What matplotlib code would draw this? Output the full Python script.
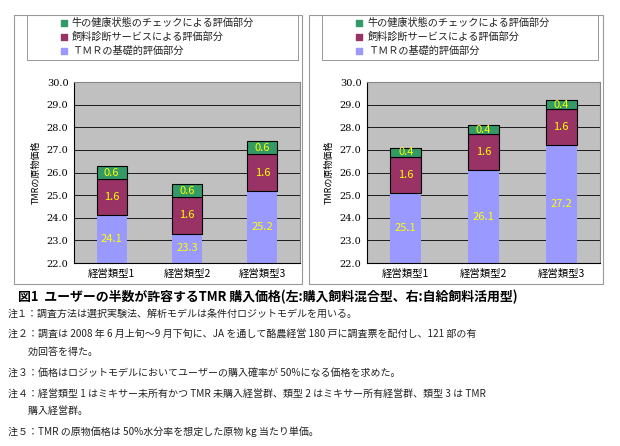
import matplotlib.pyplot as plt
from matplotlib.patches import Rectangle

plt.rcParams["font.family"] = "Noto Sans CJK JP"

categories = ["経営類型1", "経営類型2", "経営類型3"]
left_base = [24.1, 23.3, 25.2]
left_feed = [1.6, 1.6, 1.6]
left_health = [0.6, 0.6, 0.6]
right_base = [25.1, 26.1, 27.2]
right_feed = [1.6, 1.6, 1.6]
right_health = [0.4, 0.4, 0.4]
series_names = ["牛の健康状態のチェックによる評価部分", "飼料診断サービスによる評価部分", "ＴＭＲの基礎的評価部分"]
yticks = [22.0, 23.0, 24.0, 25.0, 26.0, 27.0, 28.0, 29.0, 30.0]

notes = [
    "注１：調査方法は選択実験法、解析モデルは条件付ロジットモデルを用いる。",
    "注２：調査は 2008 年 6 月上旬～9 月下旬に、JA を通して酪農経営 180 戸に調査票を配付し、121 部の有",
    "　　効回答を得た。",
    "注３：価格はロジットモデルにおいてユーザーの購入確率が 50%になる価格を求めた。",
    "注４：経営類型 1 はミキサー未所有かつ TMR 未購入経営群、類型 2 はミキサー所有経営群、類型 3 は TMR",
    "　　購入経営群。",
    "注５：TMR の原物価格は 50%水分率を想定した原物 kg 当たり単価。",
]

C_BASE, C_FEED, C_HEALTH = "#9999ff", "#993366", "#339966"
W, H = 620, 446
fig = plt.figure(figsize=(6.2, 4.46), dpi=100)


def px(x0, y0, x1, y1):
    return [x0 / W, 1 - y1 / H, (x1 - x0) / W, (y1 - y0) / H]


def panel(frame, leg, axbox, base, feed, health):
    fig.patches.append(Rectangle((frame[0], frame[1]), frame[2], frame[3],
                                 transform=fig.transFigure, fill=False, ec="#999999", lw=0.8))
    lax = fig.add_axes(leg)
    lax.set_xticks([]); lax.set_yticks([])
    for s in lax.spines.values():
        s.set_color("#999999"); s.set_linewidth(0.7)
    for i, (name, c) in enumerate(zip(series_names, [C_HEALTH, C_FEED, C_BASE])):
        y = 0.83 - i * 0.31
        lax.scatter([0.135], [y], marker="s", s=22, color=c)
        lax.text(0.165, y, name, fontsize=7.3, va="center", ha="left", color="#222222")
    lax.set_xlim(0, 1); lax.set_ylim(0, 1)

    ax = fig.add_axes(axbox)
    ax.set_facecolor("#c0c0c0")
    x = range(len(categories))
    ax.bar(x, base, width=0.4, color=C_BASE, bottom=0)
    ax.bar(x, feed, width=0.4, bottom=base, color=C_FEED, edgecolor="black", lw=0.8)
    tops = [b + f for b, f in zip(base, feed)]
    ax.bar(x, health, width=0.4, bottom=tops, color=C_HEALTH, edgecolor="black", lw=0.8)
    for i in x:
        ax.text(i, (22 + base[i]) / 2, f"{base[i]:.1f}", ha="center", va="center", color="#ffff00", fontsize=8)
        ax.text(i, base[i] + feed[i] / 2, f"{feed[i]:.1f}", ha="center", va="center", color="#ffff00", fontsize=8)
        ax.text(i, tops[i] + health[i] / 2, f"{health[i]:.1f}", ha="center", va="center", color="#ffff00", fontsize=8)
    ax.set_ylim(22, 30)
    ax.set_xlim(-0.5, 2.5)
    ax.set_yticks(yticks)
    ax.set_yticklabels([f"{v:.1f}" for v in yticks], fontsize=7, family="DejaVu Serif")
    ax.set_xticks(list(x))
    ax.set_xticklabels(categories, fontsize=7.5)
    ax.tick_params(length=0, pad=4)
    ax.grid(axis="y", color="black", lw=0.6)
    ax.set_axisbelow(True)
    for s in ["top", "right"]:
        ax.spines[s].set_color("#888888")
    ax.set_ylabel("TMRの原物価格", fontsize=6.5)


panel(px(14, 15, 302, 284), px(27, 15, 298, 60), px(74, 82, 300, 263), left_base, left_feed, left_health)
panel(px(309, 15, 603, 284), px(322, 15, 598, 60), px(367, 82, 600, 263), right_base, right_feed, right_health)

fig.text(18 / W, 1 - 297 / H, "図1  ユーザーの半数が許容するTMR 購入価格(左:購入飼料混合型、右:自給飼料活用型)",
         fontsize=9.3, fontweight="bold", va="center")
ys = [314, 335, 352, 373, 394, 411, 432]
for y, t in zip(ys, notes):
    fig.text(8 / W, 1 - y / H, t, fontsize=7.2, va="center", color="#222222")

fig.savefig("out.png", dpi=100)
